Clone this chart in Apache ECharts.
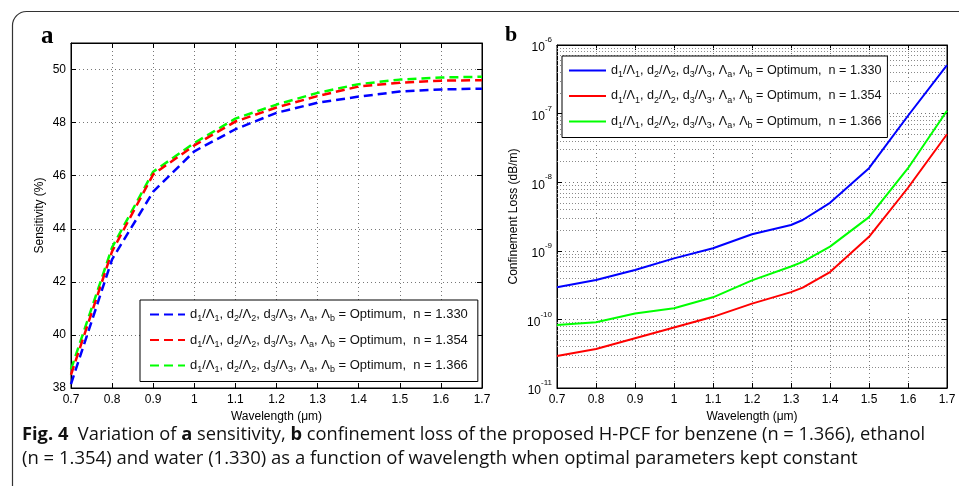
<!DOCTYPE html>
<html><head><meta charset="utf-8">
<script src="https://cdn.jsdelivr.net/npm/echarts@6/dist/echarts.min.js"></script>
<style>html,body{margin:0;padding:0;background:#fff}#c{width:959px;height:486px}</style>
</head><body><div id="c"></div>
<script>
// ---- data ----
const wavelengthA = [0.7, 0.8, 0.9, 1.0, 1.1, 1.2, 1.3, 1.4, 1.5, 1.6, 1.7];
const sensWater   = [38.15, 42.85, 45.4, 46.92, 47.75, 48.37, 48.75, 48.98, 49.17, 49.25, 49.28];
const sensEthanol = [38.5, 43.15, 46.05, 47.14, 48.04, 48.57, 49.0, 49.36, 49.5, 49.58, 49.6];
const sensBenzene = [38.7, 43.3, 46.15, 47.23, 48.15, 48.68, 49.12, 49.45, 49.62, 49.7, 49.73];

const wavelengthB = [0.7, 0.8, 0.9, 1.0, 1.1, 1.2, 1.3, 1.33, 1.4, 1.5, 1.6, 1.7];
const lossWater   = [2.94e-10, 3.75e-10, 5.25e-10, 7.76e-10, 1.09e-9, 1.74e-9, 2.38e-9, 2.81e-9, 5.0e-9, 1.6e-8, 9.3e-8, 5.1e-7];
const lossEthanol = [2.93e-11, 3.7e-11, 5.3e-11, 7.6e-11, 1.09e-10, 1.7e-10, 2.5e-10, 2.9e-10, 4.9e-10, 1.6e-9, 8.3e-9, 5.0e-8];
const lossBenzene = [8.3e-11, 9.1e-11, 1.22e-10, 1.45e-10, 2.1e-10, 3.7e-10, 5.9e-10, 6.9e-10, 1.15e-9, 3.1e-9, 1.6e-8, 1.1e-7];

const nValues = ['1.330', '1.354', '1.366'];
const lineColors = ['#0000ff', '#ff0000', '#00ff00'];
const xTicks = { min: 0.7, max: 1.7, step: 0.1 };
const sensTicks = { min: 38, max: 51, step: 2 };
const lossDecades = { min: 1e-11, max: 1e-6 };
const logMinorTicks = [];
for (let k = -11; k < -6; k++) for (let m = 2; m <= 9; m++) logMinorTicks.push(m * Math.pow(10, k));

// ---- helpers ----
const FONT = '"Liberation Sans", Arial, sans-serif';
const zip = (xs, ys) => xs.map((x, i) => [x, ys[i]]);
const legendText = (name) => {
  const n = name.split('|')[1];
  return '{t|d}{s|1}{t|/Λ}{s|1}{t|, d}{s|2}{t|/Λ}{s|2}{t|, d}{s|3}{t|/Λ}{s|3}{t|, Λ}{s|a}{t|, Λ}{s|b}{t| = Optimum,  n = ' + n + '}';
};
const makeRich = (fs) => ({
  t: { fontSize: fs, fontFamily: FONT, color: '#111', lineHeight: 18, verticalAlign: 'middle' },
  s: { fontSize: 9, fontFamily: FONT, color: '#111', lineHeight: 9, verticalAlign: 'bottom' }
});
const gridLine = { show: true, lineStyle: { type: [1, 3], color: '#777', width: 1 } };
const tickStyle = { inside: true, length: 5, lineStyle: { color: '#000' } };
const labelStyle = { color: '#000', fontSize: 12, fontFamily: FONT };

function xAxisPair(gi) {
  return [
    { gridIndex: gi, type: 'value', min: xTicks.min, max: xTicks.max, interval: xTicks.step,
      axisLine: { show: true, lineStyle: { color: '#000' } }, axisTick: tickStyle,
      axisLabel: Object.assign({ margin: 6, formatter: v => String(parseFloat(v.toFixed(1))) }, labelStyle),
      splitLine: gridLine,
      name: 'Wavelength (μm)', nameLocation: 'middle', nameGap: 14,
      nameTextStyle: { color: '#000', fontSize: 12, fontFamily: FONT } },
    { gridIndex: gi, type: 'value', position: 'top', min: xTicks.min, max: xTicks.max, interval: xTicks.step,
      axisLine: { show: true, lineStyle: { color: '#000' } }, axisTick: tickStyle,
      axisLabel: { show: false }, splitLine: { show: false } }
  ];
}

const series = [];
const sensData = [sensWater, sensEthanol, sensBenzene];
const lossData = [lossWater, lossEthanol, lossBenzene];
nValues.forEach((n, i) => {
  series.push({ name: 'a|' + n, type: 'line', xAxisIndex: 0, yAxisIndex: 0, data: zip(wavelengthA, sensData[i]),
    symbol: 'none', showSymbol: false, smooth: false, animation: false, z: 3 + (2 - i),
    lineStyle: { color: lineColors[i], width: 2.5, type: [9, 5] }, itemStyle: { color: lineColors[i] } });
});
// minor log grid lines (2..9 x 10^k), placed through the log axis
series.push({ name: 'minor grid', type: 'lines', coordinateSystem: 'cartesian2d', xAxisIndex: 2, yAxisIndex: 2,
  silent: true, animation: false, z: 1, polyline: false,
  lineStyle: { type: [1, 2], color: '#8a8a8a', width: 1, opacity: 1, curveness: 0 },
  data: logMinorTicks.map(v => ({ coords: [[xTicks.min, v], [xTicks.max, v]] })) });
nValues.forEach((n, i) => {
  series.push({ name: 'b|' + n, type: 'line', xAxisIndex: 2, yAxisIndex: 2, data: zip(wavelengthB, lossData[i]),
    symbol: 'none', showSymbol: false, smooth: false, animation: false, z: 3,
    lineStyle: { color: lineColors[i], width: 2, type: 'solid' }, itemStyle: { color: lineColors[i] } });
});

const chart = echarts.init(document.getElementById('c'), null, { renderer: 'canvas' });
chart.setOption({
  backgroundColor: '#fff',
  animation: false,
  grid: [
    { left: 71, top: 43, width: 411, height: 345, show: true, borderColor: '#000', borderWidth: 1, backgroundColor: 'transparent' },
    { left: 557, top: 45, width: 390, height: 343, show: true, borderColor: '#000', borderWidth: 1, backgroundColor: 'transparent' }
  ],
  xAxis: xAxisPair(0).concat(xAxisPair(1)),
  yAxis: [
    { gridIndex: 0, type: 'value', min: sensTicks.min, max: sensTicks.max, interval: sensTicks.step,
      axisLine: { show: true, lineStyle: { color: '#000' } }, axisTick: tickStyle,
      axisLabel: Object.assign({ margin: 5, showMaxLabel: false }, labelStyle),
      splitLine: gridLine,
      name: 'Sensitivity (%)', nameLocation: 'middle', nameGap: 25,
      nameTextStyle: { color: '#000', fontSize: 12, fontFamily: FONT } },
    { gridIndex: 0, type: 'value', position: 'right', min: sensTicks.min, max: sensTicks.max, interval: sensTicks.step,
      axisLine: { show: true, lineStyle: { color: '#000' } }, axisTick: tickStyle,
      axisLabel: { show: false }, splitLine: { show: false } },
    { gridIndex: 1, type: 'log', logBase: 10, min: lossDecades.min, max: lossDecades.max,
      axisLine: { show: true, lineStyle: { color: '#000' } }, axisTick: tickStyle,
      axisLabel: { margin: 5, color: '#000',
        formatter: v => '{b|10}{s|' + Math.round(Math.log10(v)) + '}',
        rich: { b: { fontSize: 12, fontFamily: FONT, color: '#000', lineHeight: 18, verticalAlign: 'bottom' },
                s: { fontSize: 8, fontFamily: FONT, color: '#000', lineHeight: 10, verticalAlign: 'top' } } },
      splitLine: gridLine,
      name: 'Confinement Loss (dB/m)', nameLocation: 'middle', nameGap: 37,
      nameTextStyle: { color: '#000', fontSize: 12, fontFamily: FONT } },
    { gridIndex: 1, type: 'log', logBase: 10, position: 'right', min: lossDecades.min, max: lossDecades.max,
      axisLine: { show: true, lineStyle: { color: '#000' } }, axisTick: tickStyle,
      axisLabel: { show: false }, splitLine: { show: false } }
  ],
  legend: [
    { data: nValues.map(n => 'a|' + n), orient: 'vertical', left: 140, top: 300, itemWidth: 35, itemHeight: 14, itemGap: 10,
      padding: [8, 10, 7, 9], backgroundColor: '#fff', borderColor: '#000', borderWidth: 1, borderRadius: 0,
      itemStyle: { opacity: 0 },
      formatter: legendText, textStyle: { rich: makeRich(13) }, selectedMode: false },
    { data: nValues.map(n => 'b|' + n), orient: 'vertical', left: 562, top: 56, itemWidth: 37, itemHeight: 14, itemGap: 10,
      padding: [8, 6, 7, 6], backgroundColor: '#fff', borderColor: '#000', borderWidth: 1, borderRadius: 0,
      itemStyle: { opacity: 0 },
      formatter: legendText, textStyle: { rich: makeRich(12.6) }, selectedMode: false }
  ],
  graphic: [
    { type: 'rect', silent: true, shape: { x: 12.5, y: 11.5, width: 1000, height: 600, r: [14, 0, 0, 0] },
      style: { fill: 'none', stroke: '#333', lineWidth: 1.2 } },
    { type: 'text', left: 41, top: 24, style: { text: 'a', font: 'bold 25px "Liberation Serif", "DejaVu Serif", serif', fill: '#000' } },
    { type: 'text', left: 505, top: 24, style: { text: 'b', font: 'bold 22px "Liberation Serif", "DejaVu Serif", serif', fill: '#000' } },
    { type: 'text', left: 22, top: 426, style: {
        text: '{b|Fig. 4}{n|  Variation of }{b|a}{n| sensitivity, }{b|b}{n| confinement loss of the proposed H-PCF for benzene (n = 1.366), ethanol}',
        rich: { b: { font: 'bold 18.3px "Open Sans", sans-serif', fill: '#111' }, n: { font: '18.3px "Open Sans", sans-serif', fill: '#111' } } } },
    { type: 'text', left: 22, top: 449, style: {
        text: '(n = 1.354) and water (1.330) as a function of wavelength when optimal parameters kept constant',
        font: '18.5px "Open Sans", sans-serif', fill: '#111' } }
  ],
  series: series
});
</script></body></html>
